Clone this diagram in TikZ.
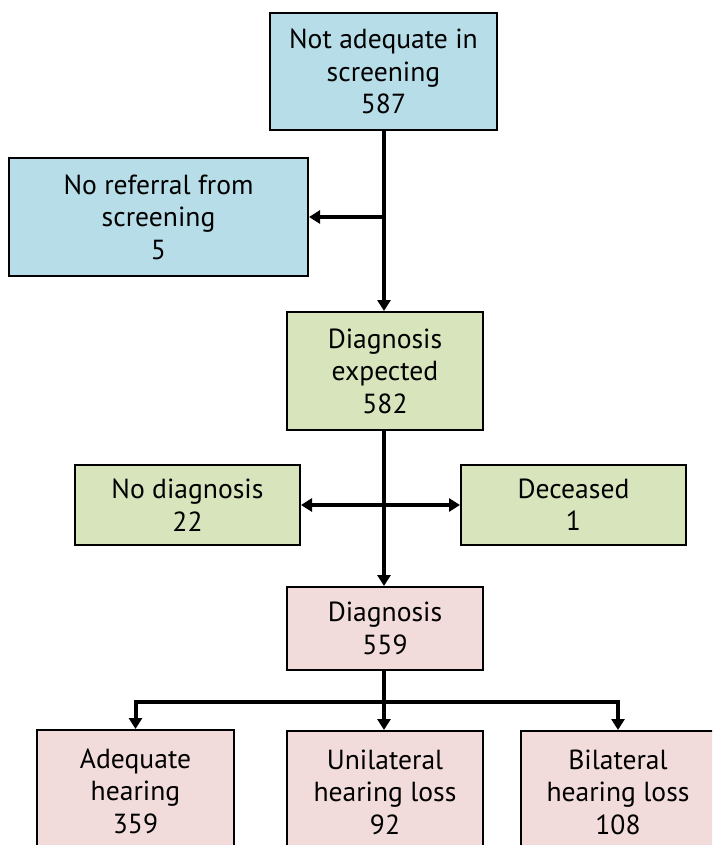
\documentclass[tikz,border=0pt]{standalone}
\usepackage{fontspec}
\setmainfont{PT Sans}
\usetikzlibrary{arrows.meta}
\definecolor{boxblue}{HTML}{B7DEE8}
\definecolor{boxgreen}{HTML}{D7E4BC}
\definecolor{boxpink}{HTML}{F2DCDB}
\tikzset{
  box/.style={draw, line width=1pt, align=center, inner sep=0pt,
    font=\fontsize{13.8}{16.2}\selectfont},
  flow/.style={line width=2pt, -{Triangle[width=6.5pt,length=5.5pt]}}
}
\begin{document}
\begin{tikzpicture}[x=0.5pt,y=-0.5pt]
    \useasboundingbox (0,0) rectangle (712,845);
    \clip (0,0) rectangle (712,845);
    % boxes
    \node[box, fill=boxblue, minimum width=113.5pt, minimum height=58.5pt] (top) at (383.5,71.5) {Not adequate in\\screening\\587};
    \node[box, fill=boxblue, minimum width=149.5pt, minimum height=59pt] (noref) at (158.5,217) {No referral from\\screening\\5};
    \node[box, fill=boxgreen, minimum width=98pt, minimum height=59pt] (diagexp) at (385,371) {Diagnosis\\expected\\582};
    \node[box, fill=boxgreen, minimum width=112.5pt, minimum height=40pt] (nodiag) at (187.5,505) {No diagnosis\\22};
    \node[box, fill=boxgreen, minimum width=112.5pt, minimum height=40pt] (dead) at (573.5,505) {Deceased\\1};
    \node[box, fill=boxpink, minimum width=98pt, minimum height=41.5pt] (diag) at (385,628.5) {Diagnosis\\559};
    \node[box, fill=boxpink, minimum width=98.5pt, minimum height=61pt] (adeq) at (135.5,791) {Adequate\\hearing\\359};
    \node[box, fill=boxpink, minimum width=98pt, minimum height=61pt] (uni) at (385,792) {Unilateral\\hearing loss\\92};
    \node[box, fill=boxpink, minimum width=97pt, minimum height=61pt] (bi) at (618,792) {Bilateral\\hearing loss\\108};
    % arrows
    \coordinate (split) at (384,217);
    \coordinate (bus) at (384,702);
    \draw[flow] (top.south -| split) -- (diagexp.north -| split);
    \draw[flow] (split) -- (noref.east);
    \draw[flow] (diagexp.south -| split) -- (diag.north -| split);
    \draw[line width=2pt, {Triangle[width=6.5pt,length=5.5pt]}-{Triangle[width=6.5pt,length=5.5pt]}] (nodiag.east) -- (dead.west);
    \draw[line width=2pt] (diag.south -| bus) -- (bus);
    \draw[flow] (bus) -| (adeq.north);
    \draw[flow] (bus) -- (uni.north -| bus);
    \draw[flow] (bus) -| (bi.north);
\end{tikzpicture}
\end{document}
